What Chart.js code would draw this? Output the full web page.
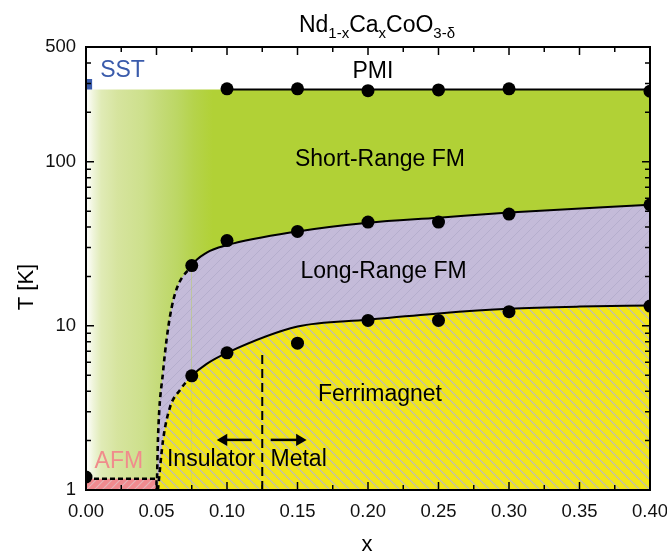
<!DOCTYPE html>
<html>
<head>
<meta charset="utf-8">
<script src="https://cdn.jsdelivr.net/npm/chart.js@4/dist/chart.umd.min.js"></script>
<style>
  html, body { margin: 0; padding: 0; background: #fff; }
</style>
</head>
<body>
<canvas id="phase" width="667" height="554"></canvas>
<script>
// measured points
const pmiX = [0.10, 0.15, 0.20, 0.25, 0.30, 0.40];
const pmiT = [278, 278, 271, 274, 278, 269];
const srX = [0.075, 0.10, 0.15, 0.20, 0.25, 0.30, 0.40];
const srT = [23.3, 33.1, 37.6, 42.9, 42.9, 48.0, 54.7];
const lrX = [0.075, 0.10, 0.15, 0.20, 0.25, 0.30, 0.40];
const lrT = [4.96, 6.85, 7.84, 10.8, 10.8, 12.2, 13.2];
const afmPtX = [0];
const afmPtT = [1.2];

// phase boundaries
const pmiLineX = [0.10, 0.40];
const pmiLineT = [275, 275];
const greenX = [0, 0.40];
const greenT = [275, 275];
const upX = [0.0504, 0.051, 0.0546, 0.0608, 0.075, 0.0856, 0.10, 0.15, 0.20, 0.25, 0.30, 0.40];
const upT = [1.18, 2.0, 5.2, 13, 23.3, 27.9, 31, 37.6, 42.5, 45.6, 49, 54.7];
const loX = [0.051, 0.0546, 0.0596, 0.0667, 0.075, 0.0856, 0.10, 0.15, 0.20, 0.25, 0.30, 0.35, 0.40];
const loT = [1, 2.0, 3.2, 4.07, 4.96, 5.87, 6.85, 9.9, 10.9, 11.9, 12.7, 13.1, 13.3];
const afmX = [0, 0.05, 0.05];
const afmT = [1.17, 1.17, 1];
const sstX = [0, 0.0045];
const sstT = [319, 319];
const mitX = [0.125, 0.125];
const mitT = [1, 7.1];
const arrowLX = [0.1175, 0.0977];
const arrowRX = [0.131, 0.1515];
const arrowT = [2.02, 2.02];

// axes
const xTicks = [0, 0.05, 0.10, 0.15, 0.20, 0.25, 0.30, 0.35, 0.40];
const xMinor = [0.025, 0.075, 0.125, 0.175, 0.225, 0.275, 0.325, 0.375];
const yTicks = [1, 10, 100, 500];
const yMinor = [2, 3, 4, 5, 6, 7, 8, 9, 20, 30, 40, 50, 60, 70, 80, 90, 200, 300, 400];

const FONT = "'Liberation Sans', Arial, Helvetica, sans-serif";

const notes = [
  { t: 'PMI', x: 0.2035, y: 354, c: '#000' },
  { t: 'Short-Range FM', x: 0.2085, y: 103, c: '#000' },
  { t: 'Long-Range FM', x: 0.211, y: 21.4, c: '#000' },
  { t: 'Ferrimagnet', x: 0.2085, y: 3.79, c: '#000' },
  { t: 'Insulator', x: 0.0887, y: 1.52, c: '#000' },
  { t: 'Metal', x: 0.1508, y: 1.52, c: '#000' },
  { t: 'AFM', x: 0.0233, y: 1.49, c: '#f08c8c' },
  { t: 'SST', x: 0.0259, y: 360, c: '#3a5bab' }
];

function pts(xs, ys) {
  return xs.map((v, i) => ({ x: v, y: ys[i] }));
}

const canvas = document.getElementById('phase');
const ctx2d = canvas.getContext('2d');

function hatch(bg, line, dir, size, lw) {
  const c = document.createElement('canvas');
  c.width = size; c.height = size;
  const g = c.getContext('2d');
  g.fillStyle = bg;
  g.fillRect(0, 0, size, size);
  g.strokeStyle = line;
  g.lineWidth = lw;
  g.beginPath();
  for (const o of [-size, 0, size]) {
    if (dir === '\\') { g.moveTo(o, 0); g.lineTo(o + size, size); }
    else { g.moveTo(o, size); g.lineTo(o + size, 0); }
  }
  g.stroke();
  return ctx2d.createPattern(c, 'repeat');
}

const yellowHatch = hatch('#f2e619', '#b9b8c6', '\\', 10, 1.1);
const lilacHatch = hatch('#c4bbd9', '#b5aecd', '/', 10, 1);
const pinkHatch = hatch('#f08a8f', '#e6b3b8', '/', 8, 1.2);

function greenFill(c) {
  const chart = c.chart;
  if (!chart.chartArea) return '#b1d136';
  const xs = chart.scales.x;
  const g = chart.ctx.createLinearGradient(xs.getPixelForValue(0), 0, xs.getPixelForValue(0.09), 0);
  g.addColorStop(0, '#ffffff');
  g.addColorStop(0.06, '#eef4d8');
  g.addColorStop(0.12, '#e0ebb6');
  g.addColorStop(0.25, '#d6e49e');
  g.addColorStop(0.45, '#cde08c');
  g.addColorStop(0.6, '#c3da75');
  g.addColorStop(0.72, '#bcd764');
  g.addColorStop(0.85, '#b5d34b');
  g.addColorStop(1, '#b1d136');
  return g;
}

const dashLow = c => c.p0.parsed.x < 0.0749 ? [5, 4] : undefined;
const widthLow = c => c.p0.parsed.x < 0.0749 ? 2.6 : 2;

const decorations = {
  id: 'decorations',
  afterDatasetsDraw(chart) {
    const { ctx, chartArea: a, scales: { x, y } } = chart;
    ctx.save();

    // region labels
    ctx.textAlign = 'center';
    ctx.textBaseline = 'middle';
    ctx.font = '23px ' + FONT;
    notes.forEach(n => {
      ctx.fillStyle = n.c;
      ctx.fillText(n.t, x.getPixelForValue(n.x), y.getPixelForValue(n.y));
    });

    // inward ticks on all four sides
    ctx.strokeStyle = '#000';
    ctx.lineWidth = 1.5;
    ctx.beginPath();
    const yt = (v, len) => {
      const p = y.getPixelForValue(v);
      ctx.moveTo(a.left, p); ctx.lineTo(a.left + len, p);
      ctx.moveTo(a.right, p); ctx.lineTo(a.right - len, p);
    };
    const xt = (v, len) => {
      const p = x.getPixelForValue(v);
      ctx.moveTo(p, a.bottom); ctx.lineTo(p, a.bottom - len);
      ctx.moveTo(p, a.top); ctx.lineTo(p, a.top + len);
    };
    yTicks.forEach(v => yt(v, 8));
    yMinor.forEach(v => yt(v, 5));
    xTicks.forEach(v => xt(v, 8));
    xMinor.forEach(v => xt(v, 5));
    ctx.stroke();

    ctx.lineWidth = 2;
    ctx.strokeRect(a.left, a.top, a.right - a.left, a.bottom - a.top);

    // axis titles
    ctx.fillStyle = '#000';
    ctx.font = '22px ' + FONT;
    ctx.fillText('x', 367, 545);
    ctx.save();
    ctx.translate(27, 287);
    ctx.rotate(-Math.PI / 2);
    ctx.fillText('T [K]', 0, 0);
    ctx.restore();

    // title with subscripts
    const parts = [['Nd', 0], ['1-x', 1], ['Ca', 0], ['x', 1], ['CoO', 0], ['3-\u03b4', 1]];
    const big = '23px ' + FONT, small = '15px ' + FONT;
    let w = 0;
    parts.forEach(p => { ctx.font = p[1] ? small : big; w += ctx.measureText(p[0]).width; });
    let cx = 377 - w / 2;
    ctx.textAlign = 'left';
    ctx.textBaseline = 'alphabetic';
    parts.forEach(p => {
      ctx.font = p[1] ? small : big;
      ctx.fillText(p[0], cx, p[1] ? 38 : 32);
      cx += ctx.measureText(p[0]).width;
    });
    ctx.restore();
  }
};

const base = { pointRadius: 0, borderColor: '#000' };

new Chart(canvas, {
  type: 'line',
  data: {
    datasets: [
      Object.assign({}, base, {
        data: pts(greenX, greenT), fill: 'start', borderWidth: 0,
        backgroundColor: greenFill, order: 10
      }),
      Object.assign({}, base, {
        data: pts(sstX, sstT), fill: { value: 275 }, borderWidth: 0,
        backgroundColor: '#3a5bab', order: 9
      }),
      Object.assign({}, base, {
        data: pts(upX, upT), fill: 'start', borderWidth: 2,
        backgroundColor: lilacHatch, cubicInterpolationMode: 'monotone',
        segment: { borderDash: dashLow, borderWidth: widthLow }, order: 8
      }),
      Object.assign({}, base, {
        data: pts(loX, loT), fill: 'start', borderWidth: 2,
        backgroundColor: yellowHatch, cubicInterpolationMode: 'monotone',
        segment: { borderDash: dashLow, borderWidth: widthLow }, order: 7
      }),
      Object.assign({}, base, {
        data: pts(afmX, afmT), fill: 'start', borderWidth: 2.4, borderDash: [5, 3],
        backgroundColor: pinkHatch, order: 6
      }),
      Object.assign({}, base, {
        data: pts(pmiLineX, pmiLineT), fill: false, borderWidth: 2, order: 5
      }),
      Object.assign({}, base, {
        data: pts(mitX, mitT), fill: false, borderWidth: 2, borderDash: [9, 5], order: 4
      }),
      Object.assign({}, base, {
        data: pts(arrowLX, arrowT), fill: false, borderWidth: 2.5,
        pointRadius: [0, 7], pointStyle: 'triangle', pointRotation: [0, 270],
        pointBackgroundColor: '#000', pointBorderWidth: 0, order: 3
      }),
      Object.assign({}, base, {
        data: pts(arrowRX, arrowT), fill: false, borderWidth: 2.5,
        pointRadius: [0, 7], pointStyle: 'triangle', pointRotation: [0, 90],
        pointBackgroundColor: '#000', pointBorderWidth: 0, order: 3
      }),
      {
        data: pts(pmiX, pmiT).concat(pts(srX, srT), pts(lrX, lrT), pts(afmPtX, afmPtT)),
        showLine: false, pointRadius: 6.5, pointBackgroundColor: '#000',
        pointBorderWidth: 0, clip: 0, order: 1
      }
    ]
  },
  options: {
    responsive: false,
    animation: false,
    layout: { padding: { top: 47, right: 17, bottom: 0, left: 0 } },
    plugins: { legend: { display: false }, tooltip: { enabled: false } },
    scales: {
      x: {
        type: 'linear', min: 0, max: 0.4,
        grid: { display: false, drawTicks: false },
        border: { display: false },
        afterBuildTicks: s => { s.ticks = xTicks.map(v => ({ value: v })); },
        ticks: {
          callback: v => Number(v).toFixed(2),
          font: { size: 18.5, family: FONT }, color: '#111',
          padding: 11, maxRotation: 0, autoSkip: false
        },
        afterFit: s => { s.height = 64; s.paddingLeft = 0; s.paddingRight = 0; }
      },
      y: {
        type: 'logarithmic', min: 1, max: 500,
        grid: { display: false, drawTicks: false },
        border: { display: false },
        afterBuildTicks: s => { s.ticks = yTicks.map(v => ({ value: v })); },
        ticks: {
          callback: v => String(v),
          font: { size: 18.5, family: FONT }, color: '#111',
          padding: 10, autoSkip: false
        },
        afterFit: s => { s.width = 86; s.paddingTop = 0; s.paddingBottom = 0; }
      }
    }
  },
  plugins: [decorations]
});
</script>
</body>
</html>
